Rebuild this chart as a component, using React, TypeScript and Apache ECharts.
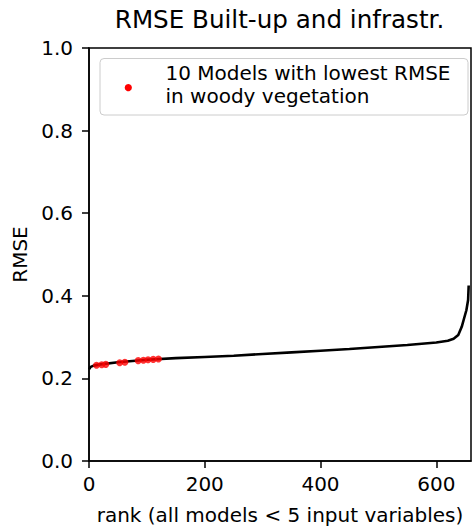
import React, { useEffect, useRef } from "react";
import * as echarts from "echarts";

// Sorted RMSE curve, read at selected ranks
const curveRanks = [0, 3, 8, 20, 50, 100, 150, 200, 250, 300, 350, 400, 450, 500, 550, 600, 620, 630, 638, 644, 648, 652, 655, 656];
const curveRmse = [0.222, 0.228, 0.231, 0.234, 0.239, 0.245, 0.249, 0.252, 0.255, 0.259, 0.263, 0.267, 0.271, 0.276, 0.281, 0.287, 0.291, 0.296, 0.305, 0.325, 0.345, 0.365, 0.39, 0.425];

// Models with the lowest RMSE in woody vegetation
const highlightRanks = [13, 22, 29, 53, 62, 85, 94, 102, 111, 120];
const highlightRmse = [0.232, 0.233, 0.234, 0.238, 0.239, 0.243, 0.244, 0.245, 0.246, 0.247];

const xTicks = [0, 200, 400, 600];
const yTicks = [0, 0.2, 0.4, 0.6, 0.8, 1.0];

const titleText = "RMSE Built-up and infrastr.";
const xName = "rank (all models < 5 input variables)";
const yName = "RMSE";
const legendText = "10 Models with lowest RMSE\nin woody vegetation";

const FONT = "DejaVu Sans";

export default function App() {
  const ref = useRef<HTMLDivElement>(null);

  useEffect(() => {
    if (!ref.current) return;
    const chart = echarts.init(ref.current, undefined, { renderer: "svg" });

    const axisCommon = {
      axisLine: { show: true, lineStyle: { color: "#000", width: 1.5 } },
      axisTick: { show: true, length: 7, lineStyle: { color: "#000", width: 1.5 } },
      splitLine: { show: false },
    };

    chart.setOption({
      animation: false,
      backgroundColor: "#fff",
      grid: {
        left: 89,
        top: 48,
        width: 382,
        height: 419,
        show: true,
        borderColor: "#000",
        borderWidth: 1.5,
        backgroundColor: "transparent",
      },
      xAxis: {
        type: "value",
        min: 0,
        max: 660,
        ...axisCommon,
        axisTick: { ...axisCommon.axisTick, customValues: xTicks },
        axisLabel: {
          customValues: xTicks,
          margin: 13,
          fontFamily: FONT,
          fontSize: 20,
          lineHeight: 20,
          color: "#000",
        },
        name: xName,
        nameLocation: "middle",
        nameGap: 44,
        nameTextStyle: { fontFamily: FONT, fontSize: 20, lineHeight: 20, color: "#000" },
      },
      yAxis: {
        type: "value",
        min: 0,
        max: 1,
        interval: 0.2,
        ...axisCommon,
        axisTick: { ...axisCommon.axisTick, customValues: yTicks },
        axisLabel: {
          customValues: yTicks,
          margin: 16,
          fontFamily: FONT,
          fontSize: 20,
          lineHeight: 20,
          color: "#000",
          formatter: (v: number) => v.toFixed(1),
        },
        name: yName,
        nameLocation: "middle",
        nameGap: 51,
        nameRotate: 90,
        nameTextStyle: { fontFamily: FONT, fontSize: 20, lineHeight: 20, color: "#000" },
      },
      series: [
        {
          type: "line",
          data: curveRanks.map((r, i) => [r, curveRmse[i]]),
          showSymbol: false,
          lineStyle: { color: "#000", width: 2.6 },
          z: 2,
        },
        {
          type: "scatter",
          data: highlightRanks.map((r, i) => [r, highlightRmse[i]]),
          symbol: "circle",
          symbolSize: 7,
          itemStyle: { color: "#ff0000" },
          z: 3,
        },
      ],
      graphic: [
        {
          type: "text",
          x: 279.5,
          y: 19.8,
          style: {
            text: titleText,
            fontFamily: FONT,
            fontSize: 24.6,
            fill: "#000",
            align: "center",
            verticalAlign: "middle",
          },
          z: 11,
        },
        {
          type: "rect",
          shape: { x: 100, y: 58.5, width: 368, height: 56.5, r: 4 },
          style: { fill: "rgba(255,255,255,0.8)", stroke: "#cccccc", lineWidth: 1 },
          z: 10,
        },
        {
          type: "circle",
          shape: { cx: 128.3, cy: 87.7, r: 3.6 },
          style: { fill: "#ff0000" },
          z: 11,
        },
        {
          type: "text",
          x: 165.5,
          y: 61.4,
          style: {
            text: legendText,
            fontFamily: FONT,
            fontSize: 20,
            lineHeight: 23.4,
            fill: "#000",
            verticalAlign: "top",
            align: "left",
          },
          z: 11,
        },
      ],
    });

    return () => chart.dispose();
  }, []);

  return (
    <div
      ref={ref}
      style={{ position: "fixed", left: 0, top: 0, width: 472, height: 530, background: "#fff" }}
    />
  );
}
